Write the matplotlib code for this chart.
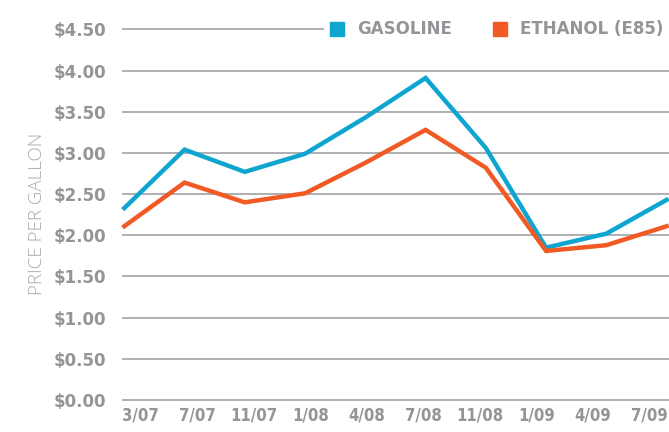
import numpy as np
import matplotlib.pyplot as plt
from matplotlib.lines import Line2D

# 資料 (每加侖價格)
months = ['3/07', '7/07', '11/07', '1/08', '4/08', '7/08', '11/08', '1/09', '4/09', '7/09']
gasoline = [2.33, 3.04, 2.77, 2.99, 3.43, 3.91, 3.06, 1.85, 2.02, 2.43]
ethanol = [2.11, 2.64, 2.40, 2.51, 2.88, 3.28, 2.82, 1.81, 1.88, 2.11]
yticks = [0.0, 0.5, 1.0, 1.5, 2.0, 2.5, 3.0, 3.5, 4.0, 4.5]

BLUE = '#0ea5d1'
ORANGE = '#f15a24'
GRAY = '#939598'
GRID = '#a7a9ac'

fig = plt.figure(figsize=(6.69, 4.32), dpi=100)
ax = fig.add_axes([0.184, 0.074, 0.816, 0.858])

x = np.arange(len(months))

# 格線
for v in yticks:
    ax.axhline(v, color=GRID, lw=1.3, zorder=1, clip_on=False)

ax.plot(x, gasoline, color=BLUE, lw=3.2, solid_joinstyle='miter', zorder=3, clip_on=False)
ax.plot(x, ethanol, color=ORANGE, lw=3.2, solid_joinstyle='miter', zorder=3, clip_on=False)

ax.set_xlim(-0.02, 9.04)
ax.set_ylim(0, 4.5)

ax.set_yticks(yticks)
ax.set_yticklabels(['${:.2f}'.format(v) for v in yticks], fontsize=12,
                   fontweight='bold', color=GRAY, family='DejaVu Sans')
ax.set_xticks(np.linspace(0.27, 8.72, len(months)))
ax.set_xticklabels(months, fontsize=12, fontweight='bold', color=GRAY,
                   family='DejaVu Sans', fontstretch='condensed')
ax.tick_params(length=0, axis='y', pad=12)
ax.tick_params(length=0, axis='x', pad=5)

for s in ax.spines.values():
    s.set_visible(False)

fig.text(0.056, 0.505, 'PRICE PER GALLON', rotation=90, ha='center', va='center',
         fontsize=13.5, color='#a7a9ac', family='Open Sans', fontweight='light')

handles = [Line2D([], [], ls='none', marker='s', markersize=10, color=BLUE),
           Line2D([], [], ls='none', marker='s', markersize=10, color=ORANGE)]
leg = ax.legend(handles, ['GASOLINE', 'ETHANOL (E85)'], loc='center right',
                bbox_to_anchor=(1.015, 1.0), ncol=2, frameon=True, fancybox=False,
                borderpad=0.3, handletextpad=0.7, columnspacing=2.4, handlelength=1.0,
                prop={'weight': 'bold', 'size': 12, 'family': 'DejaVu Sans'})
leg.get_frame().set_facecolor('white')
leg.get_frame().set_edgecolor('white')
leg.get_frame().set_alpha(1)
for t in leg.get_texts():
    t.set_color(GRAY)

plt.savefig('out.png', dpi=100)
